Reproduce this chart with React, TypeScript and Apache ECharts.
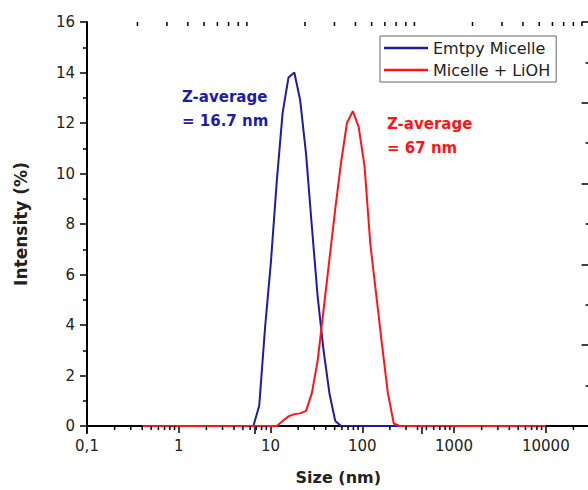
import React, { useEffect, useRef } from 'react';
import * as echarts from 'echarts';

// Size bins (nm) of the DLS distribution
const sizes = [
  0.4, 0.4632, 0.5365, 0.6213, 0.7195, 0.8332, 0.9649, 1.117, 1.294, 1.499,
  1.736, 2.01, 2.328, 2.696, 3.122, 3.615, 4.187, 4.849, 5.615, 6.503,
  7.531, 8.721, 10.1, 11.7, 13.54, 15.69, 18.17, 21.04, 24.36, 28.21,
  32.67, 37.84, 43.82, 50.75, 58.77, 68.06, 78.82, 91.28, 105.7, 122.4,
  141.8, 164.2, 190.1, 220.2, 255.0, 295.3, 342.0, 396.1, 458.7, 531.2,
  615.1, 712.4, 825.0, 955.4, 1106, 1281, 1484, 1718, 1990, 2305,
  2669, 3091, 3580, 4145, 4801, 5560, 6439, 7456, 8635, 10000,
];

// Intensity (%) - Emtpy Micelle
const emptyMicelle = [
  0, 0, 0, 0, 0, 0, 0, 0, 0, 0,
  0, 0, 0, 0, 0, 0, 0, 0, 0, 0,
  0.8, 3.9, 6.5, 9.7, 12.4, 13.8, 14.0, 12.9, 10.8, 7.9,
  5.1, 3.0, 1.3, 0.2, 0, 0, 0, 0, 0, 0,
  0, 0, 0, 0, 0, 0, 0, 0, 0, 0,
  0, 0, 0, 0, 0, 0, 0, 0, 0, 0,
  0, 0, 0, 0, 0, 0, 0, 0, 0, 0,
];

// Intensity (%) - Micelle + LiOH
const micelleLiOH = [
  0, 0, 0, 0, 0, 0, 0, 0, 0, 0,
  0, 0, 0, 0, 0, 0, 0, 0, 0, 0,
  0, 0, 0, 0, 0.2, 0.38, 0.47, 0.5, 0.6, 1.3,
  2.6, 4.6, 6.6, 8.6, 10.45, 12.0, 12.47, 11.85, 10.3, 7.2,
  5.2, 3.2, 1.3, 0.1, 0, 0, 0, 0, 0, 0,
  0, 0, 0, 0, 0, 0, 0, 0, 0, 0,
  0, 0, 0, 0, 0, 0, 0, 0, 0, 0,
];

const seriesNames = ['Emtpy Micelle', 'Micelle + LiOH'];

// Minor tick values on the bottom (log) size axis
const xMinorTicks = [
  0.2, 0.3, 0.4, 0.5, 0.6, 0.7, 0.8, 0.9,
  2, 3, 4, 5, 6, 7, 8, 9,
  20, 30, 40, 50, 60, 70, 80, 90,
  200, 300, 400, 500, 600, 700, 800, 900,
  2000, 3000, 4000, 5000, 6000, 7000, 8000, 9000,
  20000, 30000,
];

// Minor tick values on the top (log) frame axis
const topMinorTicks = [
  2, 3, 4, 5, 6, 7, 8, 9,
  20, 30, 40, 50, 60, 70, 80, 90,
  200, 300, 400, 500, 600, 700, 800, 900,
];

const BLUE = '#1c1ca6';
const RED = '#ff1414';
const FONT = '"DejaVu Sans", Verdana, sans-serif';

export default function App() {
  const ref = useRef<HTMLDivElement>(null);

  useEffect(() => {
    if (!ref.current) return;
    const chart = echarts.init(ref.current, null, { renderer: 'svg' });

    const fmtX = (v: number) => {
      const l = Math.log10(v);
      if (Math.abs(l - Math.round(l)) > 1e-6) return '';
      const r = Math.round(l);
      if (r < 0) return '0,1';
      if (r > 4) return '';
      return String(Math.round(Math.pow(10, r)));
    };

    const tickSeries = (vals: number[], axisIdx: number, yVal: number, dir: number) => ({
      type: 'custom',
      xAxisIndex: axisIdx,
      yAxisIndex: 0,
      silent: true,
      clip: false,
      data: vals.map((v) => [v, yVal]),
      renderItem: (_p: any, api: any) => {
        const pt = api.coord([api.value(0), api.value(1)]);
        return {
          type: 'line',
          shape: { x1: pt[0], y1: pt[1], x2: pt[0], y2: pt[1] + dir * 4 },
          style: { stroke: '#000', lineWidth: 1.5 },
        };
      },
      z: 5,
    });

    const option: any = {
      animation: false,
      backgroundColor: '#fff',
      grid: { left: 87, top: 22, bottom: 61, right: 10.4, containLabel: false },
      legend: {
        data: seriesNames,
        orient: 'vertical',
        left: 380,
        top: 36,
        icon: 'rect',
        itemWidth: 44,
        itemHeight: 2.5,
        itemGap: 4,
        padding: [3, 6, 3, 4],
        borderColor: '#666',
        borderWidth: 1,
        backgroundColor: '#fff',
        textStyle: { fontFamily: FONT, fontSize: 16, color: '#222', lineHeight: 18 },
      },
      xAxis: [
        {
          type: 'log',
          logBase: 10,
          min: 0.1,
          max: 30000,
          position: 'bottom',
          axisLine: { show: true, lineStyle: { color: '#000', width: 2 } },
          axisTick: { show: true, inside: false, length: 7, lineStyle: { color: '#000', width: 1.5 } },
          axisLabel: { formatter: fmtX, fontFamily: FONT, fontSize: 15, color: '#222', margin: 12 },
          splitLine: { show: false },
          minorTick: { show: false },
          name: 'Size (nm)',
          nameLocation: 'middle',
          nameGap: 43,
          nameTextStyle: { fontFamily: FONT, fontSize: 16, fontWeight: 'bold', color: '#222' },
        },
        {
          type: 'log',
          logBase: 10,
          min: 1,
          max: 1000,
          position: 'top',
          axisLine: { show: true, lineStyle: { color: '#000', width: 2 } },
          axisTick: { show: true, inside: true, length: 8, lineStyle: { color: '#000', width: 1.5 } },
          axisLabel: { show: false },
          splitLine: { show: false },
        },
      ],
      yAxis: [
        {
          type: 'value',
          min: 0,
          max: 16,
          interval: 2,
          position: 'left',
          axisLine: { show: true, lineStyle: { color: '#000', width: 2 } },
          axisTick: { show: true, inside: false, length: 7, lineStyle: { color: '#000', width: 1.5 } },
          minorTick: { show: true, splitNumber: 2, length: 4, lineStyle: { color: '#000', width: 1.5 } },
          axisLabel: { fontFamily: FONT, fontSize: 15, color: '#222', margin: 12 },
          splitLine: { show: false },
          minorSplitLine: { show: false },
          name: 'Intensity (%)',
          nameLocation: 'middle',
          nameRotate: 90,
          nameGap: 58,
          nameTextStyle: { fontFamily: FONT, fontSize: 17, fontWeight: 'bold', color: '#222' },
        },
        {
          type: 'value',
          min: 0,
          max: 100,
          interval: 20,
          position: 'right',
          axisLine: { show: true, lineStyle: { color: '#000', width: 2 } },
          axisTick: { show: true, inside: true, length: 8, lineStyle: { color: '#000', width: 1.5 } },
          minorTick: { show: true, splitNumber: 2, length: 4, lineStyle: { color: '#000', width: 1.5 } },
          axisLabel: { show: false },
          splitLine: { show: false },
          minorSplitLine: { show: false },
        },
      ],
      series: [
        tickSeries(xMinorTicks, 0, 0, 1),
        tickSeries(topMinorTicks, 1, 16, 1),
        {
          name: seriesNames[0],
          type: 'line',
          data: sizes.map((s, i) => [s, emptyMicelle[i]]),
          symbol: 'none',
          lineStyle: { color: BLUE, width: 2 },
          itemStyle: { color: BLUE },
          z: 3,
        },
        {
          name: seriesNames[1],
          type: 'line',
          data: sizes.map((s, i) => [s, micelleLiOH[i]]),
          symbol: 'none',
          lineStyle: { color: RED, width: 2 },
          itemStyle: { color: RED },
          z: 4,
        },
      ],
      graphic: [
        { type: 'text', x: 182, y: 97, style: { text: 'Z-average', font: `bold 15px ${FONT}`, fill: BLUE, verticalAlign: 'middle' } },
        { type: 'text', x: 182, y: 121, style: { text: '= 16.7 nm', font: `bold 15px ${FONT}`, fill: BLUE, verticalAlign: 'middle' } },
        { type: 'text', x: 387, y: 124, style: { text: 'Z-average', font: `bold 15px ${FONT}`, fill: RED, verticalAlign: 'middle' } },
        { type: 'text', x: 387, y: 147.5, style: { text: '= 67 nm', font: `bold 15px ${FONT}`, fill: RED, verticalAlign: 'middle' } },
      ],
    };

    chart.setOption(option);
    return () => chart.dispose();
  }, []);

  return (
    <div style={{ position: 'fixed', left: 0, top: 0, width: 588, height: 490, overflow: 'hidden', background: '#fff' }}>
      <div ref={ref} style={{ width: 600, height: 490 }} />
    </div>
  );
}
